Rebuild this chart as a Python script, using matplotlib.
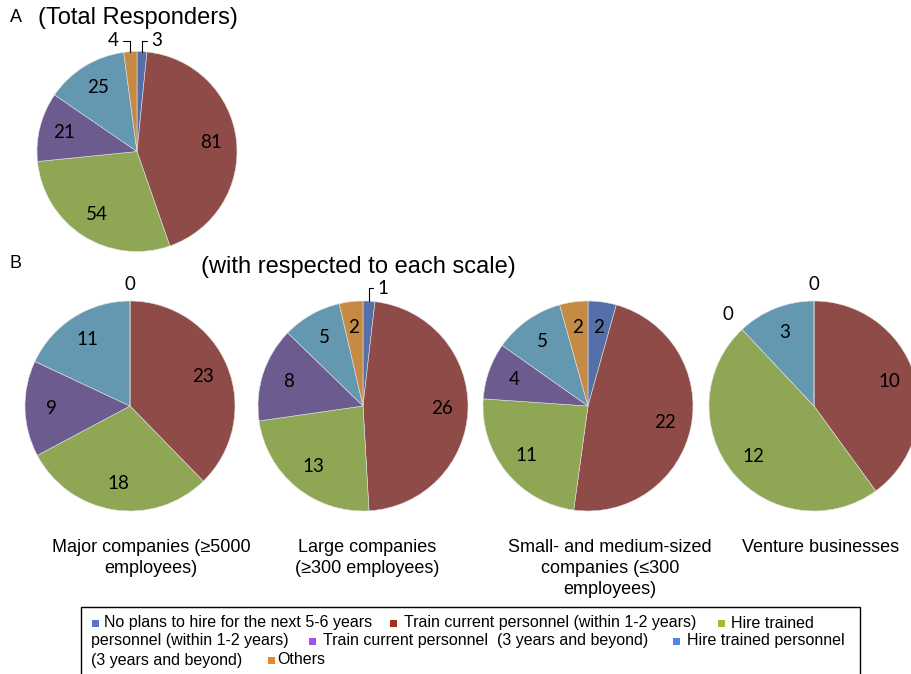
import numpy as np
import matplotlib
matplotlib.use('Agg')
import matplotlib.pyplot as plt
from matplotlib.patches import Rectangle

W, H = 912, 674

categories = ['No plans to hire for the next 5-6 years',
              'Train current personnel (within 1-2 years)',
              'Hire trained personnel (within 1-2 years)',
              'Train current personnel  (3 years and beyond)',
              'Hire trained personnel (3 years and beyond)',
              'Others']
# pie slice colours and legend marker colours
pie_colors = ['#5570a8', '#8e4b48', '#8fa654', '#6b5b8f', '#6497b0', '#c58b45']
key_colors = ['#5c72c6', '#a0301f', '#9bc02d', '#a64ff3', '#5282f0', '#e08b25']

total = [3, 81, 54, 21, 25, 4]
major = [0, 23, 18, 9, 11, 0]
large = [1, 26, 13, 8, 5, 2]
sme = [2, 22, 11, 4, 5, 2]
venture = [0, 10, 12, 0, 3, 0]

scale_names = ['Major companies (≥5000\nemployees)',
               'Large companies\n(≥300 employees)',
               'Small- and medium-sized\ncompanies (≤300\nemployees)',
               'Venture businesses']

fig = plt.figure(figsize=(W / 100, H / 100), dpi=100)
fig.patch.set_facecolor('white')

LAB = dict(family=['Lato', 'DejaVu Sans'], fontsize=13.5, color='black')
SANS = ['Liberation Sans', 'DejaVu Sans']


def px(x, y):
    return x / W, 1 - y / H


def pie_axes(cx, cy, r):
    ax = fig.add_axes([(cx - r) / W, 1 - (cy + r) / H, 2 * r / W, 2 * r / H])
    ax.axis('off')
    return ax


def draw_pie(ax, vals, leaders=None, zero_dist=None):
    leaders = leaders or {}
    zero_dist = zero_dist or {}
    wedges, _ = ax.pie(vals, colors=pie_colors, startangle=90, counterclock=False,
                       radius=1, center=(0, 0), frame=False,
                       wedgeprops=dict(edgecolor='#e0e0e0', linewidth=0.4))
    ax.set_xlim(-1, 1)
    ax.set_ylim(-1, 1)
    for i, (w, v) in enumerate(zip(wedges, vals)):
        mid = np.deg2rad((w.theta1 + w.theta2) / 2)
        if v == 0:
            if i not in zero_dist:
                continue
            d = zero_dist[i]
            ax.text(d * np.cos(mid), d * np.sin(mid), str(v), ha='center',
                    va='center', clip_on=False, **LAB)
        elif i in leaders:
            ax.annotate(str(v), xy=(np.cos(mid), np.sin(mid)), xytext=leaders[i],
                        textcoords='offset pixels', ha='center', va='center',
                        annotation_clip=False,
                        arrowprops=dict(arrowstyle='-', color='black', lw=0.8,
                                        shrinkA=1, shrinkB=0,
                                        connectionstyle='angle,angleA=0,angleB=90,rad=0'),
                        **LAB)
        else:
            ax.text(0.75 * np.cos(mid), 0.75 * np.sin(mid), str(v),
                    ha='center', va='center', **LAB)


# A: all responders
axA = pie_axes(137, 151.5, 100)
draw_pie(axA, total, leaders={0: (15, 11), 5: (-17, 11)})

# B: one pie per company scale
centers = [130, 363, 588, 814]
draw_pie(pie_axes(centers[0], 406, 105), major, zero_dist={0: 1.16})
draw_pie(pie_axes(centers[1], 406, 105), large, leaders={0: (14, 13)})
draw_pie(pie_axes(centers[2], 406, 105), sme)
draw_pie(pie_axes(centers[3], 406, 105), venture, zero_dist={0: 1.16, 3: 1.2})

fig.text(*px(10, 18), 'A', family=SANS, fontsize=13, va='center')
fig.text(*px(38, 18), '(Total Responders)', family=SANS, fontsize=17, va='center')
fig.text(*px(10, 264), 'B', family=SANS, fontsize=13, va='center')
fig.text(*px(358, 267), '(with respected to each scale)', family=SANS,
         fontsize=17, va='center', ha='center')

for x, name in zip([151, 367, 610, 821], scale_names):
    fig.text(*px(x, 539), name, family=SANS, fontsize=13, ha='center',
             va='top', linespacing=1.3)

# legend box, written out as wrapped text with inline square keys
fig.add_artist(Rectangle(px(81, 700), (860 - 81) / W, (700 - 607) / H,
                         transform=fig.transFigure, fill=False,
                         edgecolor='black', linewidth=1))
rows = [623, 641, 660]
pieces = [  # (marker x, text x, row, text, colour index)
    (95, 104, 0, categories[0], 0),
    (394, 404, 0, categories[1], 1),
    (722, 731, 0, 'Hire trained', 2),
    (None, 91, 1, 'personnel (within 1-2 years)', None),
    (313, 323, 1, categories[3], 3),
    (677, 687, 1, 'Hire trained personnel', 4),
    (None, 91, 2, '(3 years and beyond)', None),
    (272, 277, 2, 'Others', 5),
]
for mx, tx, row, txt, ci in pieces:
    y = rows[row]
    if mx is not None:
        fig.add_artist(Rectangle(px(mx - 3.5, y + 4), 7 / W, 7 / H,
                                 transform=fig.transFigure,
                                 facecolor=key_colors[ci], edgecolor='none'))
    fig.text(*px(tx, y), txt, family=SANS, fontsize=11.5, va='center')

fig.savefig('out.png', dpi=100)
